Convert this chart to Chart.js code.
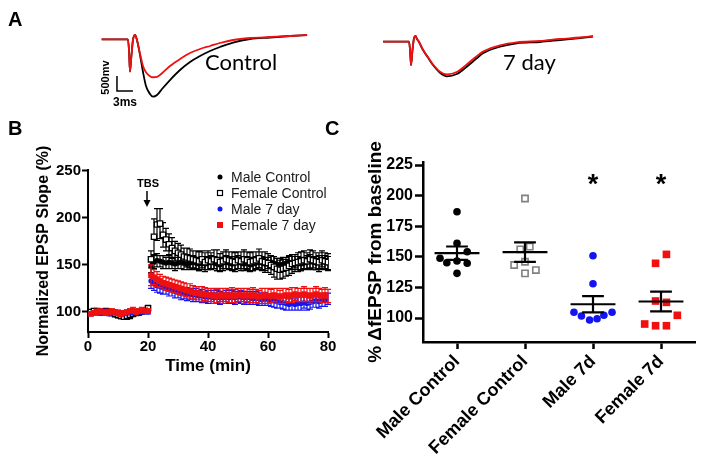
<!DOCTYPE html>
<html><head><meta charset="utf-8">
<script src="https://cdn.jsdelivr.net/npm/chart.js@4.4.1/dist/chart.umd.min.js"></script>
<style>
html,body{margin:0;padding:0;background:#fff;}
body{position:relative;width:704px;height:466px;overflow:hidden}
canvas{position:absolute;display:block}
</style></head><body>
<canvas id="a1" width="345" height="112" style="left:0;top:0"></canvas>
<canvas id="a2" width="359" height="112" style="left:345px;top:0"></canvas>
<canvas id="b" width="345" height="270" style="left:0;top:112px"></canvas>
<canvas id="c" width="384" height="354" style="left:320px;top:112px"></canvas>
<script>
// ---------- Panel A: representative fEPSP traces (time in ms, amplitude in mV re baseline) ----------
const ctrlTraceT = [0,4.93,5.12,5.31,5.59,5.87,6.25,6.62,7.19,7.75,8.31,9.06,9.62,10.38,11.31,12.81,14.69,16.57,18.44,20.32,22.19,24.63,27.82,31.58,35.33,38.52];
const ctrlBlack  = [0,0,-357,-1080,-523,-23,143,-23,-523,-1090,-1557,-1823,-1913,-1857,-1657,-1357,-1023,-757,-557,-390,-257,-107,10,60,110,143];
const ctrlRed    = [0,0,-357,-1080,-523,-23,143,-23,-480,-890,-1100,-1230,-1265,-1250,-1130,-890,-657,-457,-323,-223,-123,-23,43,77,110,143];
const day7TraceT = [0,4.88,5.07,5.25,5.53,5.82,6.1,6.38,6.75,7.5,8.44,9.38,10.69,12.0,13.83,15.7,17.58,18.76,21.95,25.08,29.46,33.21,36.96,39.4];
const day7Black  = [0,0,-277,-777,-277,123,190,90,-10,-277,-530,-777,-1033,-1153,-1077,-833,-553,-387,-167,-53,-10,57,123,173];
const day7Red    = [0,0,-277,-777,-277,123,190,90,-10,-270,-520,-760,-1000,-1090,-1010,-760,-480,-330,-120,-20,23,90,140,190];
const scaleBarMs = 3, scaleBarMv = 500;

// ---------- Panel B: time course ----------
const minutes = [1,2,3,4,5,6,7,8,9,10,11,12,13,14,15,16,17,18,19,20,21,22,23,24,25,26,27,28,29,30,31,32,33,34,35,36,37,38,39,40,41,42,43,44,45,46,47,48,49,50,51,52,53,54,55,56,57,58,59,60,61,62,63,64,65,66,67,68,69,70,71,72,73,74,75,76,77,78,79,80];
const maleCtrl = [99,100,101,100,101,100,99,100,98,97,96,95,95,96,98,99,99,100,101,102,
  149,153,155,154,153,152,153,152,151,152, 153,152,151,152,153,152,151,152,151,152,
  153,152,151,150,152,153,152,151,152,153, 152,151,152,150,151,152,153,152,151,152,
  153,152,151,150,151,152,153,152,153,152, 151,152,153,154,153,152,153,154,153,152];
const maleCtrlErr = [2,2,2,2,2,2,2,2,3,3,3,3,3,3,2,2,2,2,2,3,
  7,7,7,6,7,6,7,6,7,6, 7,7,6,7,7,6,7,7,6,7, 7,6,7,7,6,7,7,6,7,7,
  6,7,7,6,7,7,6,7,7,6, 7,7,6,7,7,6,7,7,6,7, 7,6,7,7,6,7,7,6,7,7];
const femaleCtrl = [100,101,101,100,100,101,100,99,98,97,96,95,96,97,98,99,100,101,101,104,
  156,180,193,194,182,177,172,168,165,163, 161,159,158,157,156,155,154,156,153,155,
  154,156,155,153,154,156,155,154,153,155, 154,156,155,153,154,155,157,154,153,152,
  150,148,146,145,146,147,149,151,152,153, 154,155,154,156,155,154,153,155,154,153];
const femaleCtrlErr = [2,2,2,3,2,2,3,2,3,3,3,3,3,3,2,2,3,2,2,3,
  9,19,17,16,13,12,11,11,10,10, 10,9,10,10,9,10,10,9,10,10, 9,10,11,9,10,10,9,10,10,9,
  10,10,9,10,10,9,10,10,11,10, 10,11,11,10,10,9,10,10,9,10, 10,10,9,10,10,9,10,10,9,9];
const male7 = [98,99,100,99,100,99,98,99,100,99,99,98,99,100,100,99,100,100,101,100,
  133,130,128,127,126,125,124,123,122,121, 120,120,119,119,118,118,117,117,116,116,
  116,115,116,115,115,116,115,116,115,116, 116,115,116,115,114,115,114,113,114,113,
  112,112,111,110,110,109,108,109,108,109, 109,110,109,110,111,112,111,112,113,114];
const male7Err = [2,2,2,2,3,2,2,2,2,3,2,2,2,3,2,2,2,2,3,2,
  8,7,7,7,7,6,7,6,7,6, 7,6,7,6,7,7,6,7,6,7, 7,6,7,7,6,7,6,7,7,6,
  7,7,6,7,6,7,7,6,7,6, 6,7,7,6,7,7,6,7,6,7, 7,6,7,7,6,7,7,6,7,6];
const female7 = [98,99,100,101,100,99,100,101,100,99,98,99,100,101,102,100,101,102,101,101,
  139,137,135,133,131,130,129,128,127,126, 125,124,123,122,121,120,120,119,119,118,
  118,117,117,118,117,118,117,118,117,118, 118,117,118,117,118,117,116,117,118,117,
  117,118,117,116,117,118,117,118,119,118, 118,119,118,117,118,119,118,117,118,117];
const female7Err = [2,2,3,2,2,2,3,2,2,2,3,2,2,2,3,2,2,3,2,2,
  11,8,8,7,7,7,7,7,7,7, 7,7,7,8,7,7,7,8,7,7, 7,8,7,7,8,7,7,8,7,7,
  7,8,7,7,8,7,7,8,7,8, 7,7,8,7,8,7,7,8,7,7, 7,8,7,8,7,8,7,7,8,7];
const seriesNamesB = ['Male Control','Female Control','Male 7 day','Female 7 day'];
const xTicksB = [0,20,40,60,80];
const yTicksB = [100,150,200,250];
const tbsMinute = 20;

// ---------- Panel C: % change per slice ----------
const categoriesC = ['Male Control','Female Control','Male 7d','Female 7d'];
const maleCtrlC   = [186.8,161.0,154.2,148.8,145.2,146.6,144.7,136.5];
const maleCtrlJit = [0,0,0.15,-0.25,-0.15,0,0.15,0];
const femaleCtrlC   = [197.7,156.1,158.3,143.3,146.0,136.5,139.2];
const femaleCtrlJit = [0,-0.07,0.07,-0.16,0,0,0.16];
const male7C   = [150.9,128.0,104.7,101.6,98.4,99.4,102.2,104.7];
const male7Jit = [0,0,-0.28,-0.17,-0.05,0.06,0.16,0.28];
const female7C   = [152.0,144.7,113.9,112.8,102.2,95.1,93.7,93.7];
const female7Jit = [0.08,-0.08,-0.08,0.08,0.24,-0.24,-0.08,0.08];
const significant = [false,false,true,true];
const yTicksC = [100,125,150,175,200,225];

// ---------- drawing ----------
const FONT = "'Liberation Sans', Arial, Helvetica, sans-serif";
Chart.defaults.font.family = FONT;
Chart.defaults.color = '#000';
const RED = '#f01010', BLUE = '#1414f0', GRAY = '#808080';
const pts = (xs, ys) => xs.map((x, i) => ({x: x, y: ys[i]}));
const noPlug = {legend:{display:false}, tooltip:{enabled:false}};

function traceChart(id, t, black, red, pad, xr, yr, deco) {
  return new Chart(document.getElementById(id), {
    type: 'line',
    data: {datasets: [
      {data: pts(t, red), borderColor: RED, borderWidth: 1.8, pointRadius: 0, cubicInterpolationMode: 'monotone', clip: false},
      {data: pts(t, black), borderColor: '#000', borderWidth: 1.8, pointRadius: 0, cubicInterpolationMode: 'monotone', clip: false}
    ]},
    options: {responsive: false, animation: false, layout: {padding: pad},
      scales: {x: {type: 'linear', display: false, min: xr[0], max: xr[1]},
               y: {type: 'linear', display: false, min: yr[0], max: yr[1]}},
      plugins: noPlug},
    plugins: [{id: 'deco', afterDraw: deco}]
  });
}

traceChart('a1', ctrlTraceT, ctrlBlack, ctrlRed, {left: 95, right: 30, top: 28, bottom: 9}, [-1.25, 40.0], [-2123, 377], c => {
  const ctx = c.ctx, x = c.scales.x, y = c.scales.y;
  ctx.save();
  ctx.fillStyle = '#000';
  ctx.font = 'bold 20px ' + FONT; ctx.textBaseline = 'alphabetic'; ctx.textAlign = 'left';
  ctx.fillText('A', 8, 26);
  const x0 = x.getPixelForValue(2.87), x1 = x.getPixelForValue(2.87 + scaleBarMs);
  const y0 = y.getPixelForValue(-1223), y1 = y.getPixelForValue(-1223 - scaleBarMv);
  ctx.strokeStyle = '#000'; ctx.lineWidth = 1.5;
  ctx.beginPath(); ctx.moveTo(x0, y0); ctx.lineTo(x0, y1); ctx.lineTo(x1, y1); ctx.stroke();
  ctx.font = 'bold 11px ' + FONT;
  ctx.save(); ctx.translate(x0 - 11, 77.5); ctx.rotate(-Math.PI / 2);
  ctx.textAlign = 'center'; ctx.textBaseline = 'middle'; ctx.fillText('500mv', 0, 0); ctx.restore();
  ctx.font = 'bold 12px ' + FONT; ctx.textAlign = 'left'; ctx.textBaseline = 'alphabetic';
  ctx.fillText('3ms', x0 - 4, y1 + 15);
  ctx.font = '22px Lato, ' + FONT;
  ctx.fillText('Control', 205, 70);
  ctx.restore();
});

traceChart('a2', day7TraceT, day7Black, day7Red, {left: 32, right: 97, top: 28, bottom: 9}, [-1.13, 42.02], [-2043, 457], c => {
  const ctx = c.ctx;
  ctx.save(); ctx.fillStyle = '#000';
  ctx.font = '22px Lato, ' + FONT; ctx.textBaseline = 'alphabetic';
  ctx.fillText('7 day', 158, 70);
  ctx.restore();
});

const errPlugin = {
  id: 'err',
  beforeDatasetDraw(chart, args) {
    const ds = chart.data.datasets[args.index];
    if (!ds.err) return;
    const ctx = chart.ctx, x = chart.scales.x, y = chart.scales.y;
    ctx.save(); ctx.strokeStyle = ds.errColor; ctx.lineWidth = 1.2;
    ctx.beginPath();
    ds.data.forEach((p, i) => {
      const px = x.getPixelForValue(p.x);
      const t = y.getPixelForValue(p.y + ds.err[i]), b = y.getPixelForValue(p.y - ds.err[i]);
      ctx.moveTo(px, t); ctx.lineTo(px, b);
      ctx.moveTo(px - 3, t); ctx.lineTo(px + 3, t);
      ctx.moveTo(px - 3, b); ctx.lineTo(px + 3, b);
    });
    ctx.stroke(); ctx.restore();
  }
};

const axisCommon = (tickLen, bw) => ({
  grid: {display: true, drawOnChartArea: false, drawTicks: true, tickLength: tickLen, tickWidth: bw, tickColor: '#000'},
  border: {display: true, color: '#000', width: bw}
});

new Chart(document.getElementById('b'), {
  type: 'scatter',
  data: {datasets: [
    {label: seriesNamesB[3], data: pts(minutes, female7), err: female7Err, errColor: RED, pointStyle: 'rect', pointRadius: 4, backgroundColor: RED, borderColor: RED, borderWidth: 0},
    {label: seriesNamesB[2], data: pts(minutes, male7), err: male7Err, errColor: BLUE, pointStyle: 'circle', pointRadius: 2.6, backgroundColor: BLUE, borderColor: BLUE, borderWidth: 0},
    {label: seriesNamesB[1], data: pts(minutes, femaleCtrl), err: femaleCtrlErr, errColor: '#000', pointStyle: 'rect', pointRadius: 3.8, backgroundColor: '#fff', borderColor: '#000', borderWidth: 1.3},
    {label: seriesNamesB[0], data: pts(minutes, maleCtrl), err: maleCtrlErr, errColor: '#000', pointStyle: 'circle', pointRadius: 2.6, backgroundColor: '#000', borderColor: '#000', borderWidth: 0}
  ]},
  options: {responsive: false, animation: false,
    layout: {padding: {left: 0, right: 17, top: 58, bottom: 0}},
    scales: {
      x: Object.assign({type: 'linear', min: 0, max: 80,
        afterBuildTicks: s => { s.ticks = xTicksB.map(v => ({value: v})); },
        afterFit: s => { s.height = 50; },
        ticks: {font: {size: 15, weight: 'bold'}, padding: 0, maxRotation: 0, color: '#000'},
        title: {display: true, text: 'Time (min)', font: {size: 17, weight: 'bold'}, padding: {top: 0, bottom: 5}, color: '#000'}
      }, axisCommon(6, 2)),
      y: Object.assign({type: 'linear', min: 78.7, max: 251,
        afterBuildTicks: s => { s.ticks = yTicksB.map(v => ({value: v})); },
        afterFit: s => { s.width = 88; },
        ticks: {font: {size: 15, weight: 'bold'}, padding: 1, color: '#000'},
        title: {display: true, text: 'Normalized EPSP Slope (%)', font: {size: 16, weight: 'bold'}, padding: {top: 34, bottom: 0}, color: '#000'}
      }, axisCommon(6, 2))
    },
    plugins: noPlug},
  plugins: [errPlugin, {id: 'decoB', afterDraw(c) {
    const ctx = c.ctx, x = c.scales.x;
    ctx.save(); ctx.fillStyle = '#000';
    ctx.font = 'bold 20px ' + FONT; ctx.textAlign = 'left'; ctx.textBaseline = 'alphabetic';
    ctx.fillText('B', 8, 23);
    // TBS marker
    const tx = x.getPixelForValue(tbsMinute);
    ctx.font = 'bold 11px ' + FONT; ctx.textAlign = 'center'; ctx.textBaseline = 'middle';
    ctx.fillText('TBS', tx, 72);
    ctx.strokeStyle = '#000'; ctx.lineWidth = 1.5;
    ctx.beginPath(); ctx.moveTo(tx - 1, 79); ctx.lineTo(tx - 1, 92); ctx.stroke();
    ctx.beginPath(); ctx.moveTo(tx - 4.5, 88); ctx.lineTo(tx - 1, 95); ctx.lineTo(tx + 2.5, 88); ctx.closePath(); ctx.fill();
    // legend
    const rows = [65, 81, 97, 113];
    ctx.font = '14px ' + FONT; ctx.textAlign = 'left'; ctx.textBaseline = 'middle';
    const mx = 220;
    seriesNamesB.forEach((name, i) => {
      const ry = rows[i];
      if (i === 0) { ctx.fillStyle = '#000'; ctx.beginPath(); ctx.arc(mx, ry, 2.5, 0, Math.PI * 2); ctx.fill(); }
      if (i === 1) { ctx.strokeStyle = '#000'; ctx.lineWidth = 1.2; ctx.strokeRect(mx - 2.5, ry - 2.5, 5, 5); }
      if (i === 2) { ctx.fillStyle = BLUE; ctx.beginPath(); ctx.arc(mx, ry, 2.5, 0, Math.PI * 2); ctx.fill(); }
      if (i === 3) { ctx.fillStyle = RED; ctx.fillRect(mx - 3, ry - 3, 6, 6); }
      ctx.fillStyle = '#1a1a1a';
      ctx.fillText(name, 231, ry + 1);
    });
    ctx.restore();
  }}]
});

const groupsC = [
  {vals: maleCtrlC, jit: maleCtrlJit, style: 'circle', r: 3.8, bg: '#000', bc: '#000', bw: 0},
  {vals: femaleCtrlC, jit: femaleCtrlJit, style: 'rect', r: 4.4, bg: '#fff', bc: GRAY, bw: 1.6},
  {vals: male7C, jit: male7Jit, style: 'circle', r: 3.8, bg: BLUE, bc: BLUE, bw: 0},
  {vals: female7C, jit: female7Jit, style: 'rect', r: 5.4, bg: RED, bc: RED, bw: 0}
];

new Chart(document.getElementById('c'), {
  type: 'scatter',
  data: {datasets: groupsC.map((g, gi) => ({
    label: categoriesC[gi],
    data: g.vals.map((v, i) => ({x: gi + g.jit[i], y: v})),
    pointStyle: g.style, pointRadius: g.r, backgroundColor: g.bg, borderColor: g.bc, borderWidth: g.bw
  }))},
  options: {responsive: false, animation: false,
    layout: {padding: {left: 0, right: 9, top: 50, bottom: 0}},
    scales: {
      x: Object.assign({type: 'linear', min: -0.5, max: 3.5,
        afterBuildTicks: s => { s.ticks = categoriesC.map((c, i) => ({value: i})); },
        afterFit: s => { s.height = 124; },
        ticks: {font: {size: 18, weight: 'bold'}, padding: 2, minRotation: 45, maxRotation: 45, autoSkip: false, color: '#000',
          callback: v => categoriesC[v]}
      }, axisCommon(7, 2.5)),
      y: Object.assign({type: 'linear', min: 80.4, max: 227.5,
        afterBuildTicks: s => { s.ticks = yTicksC.map(v => ({value: v})); },
        afterFit: s => { s.width = 103; },
        ticks: {font: {size: 16, weight: 'bold'}, padding: 2, color: '#000'},
        title: {display: true, text: '% ΔfEPSP from baseline', font: {size: 19, weight: 'bold'}, padding: {top: 44, bottom: 0}, color: '#000'}
      }, axisCommon(8, 2.5))
    },
    plugins: noPlug},
  plugins: [{id: 'meanSem', afterDatasetsDraw(c) {
    const ctx = c.ctx, x = c.scales.x, y = c.scales.y;
    ctx.save(); ctx.strokeStyle = '#000'; ctx.lineWidth = 2.2;
    groupsC.forEach((g, gi) => {
      const n = g.vals.length;
      const mean = g.vals.reduce((a, b) => a + b, 0) / n;
      const sd = Math.sqrt(g.vals.reduce((a, b) => a + (b - mean) * (b - mean), 0) / (n - 1));
      const sem = sd / Math.sqrt(n);
      const ym = y.getPixelForValue(mean), yt = y.getPixelForValue(mean + sem), yb = y.getPixelForValue(mean - sem);
      ctx.beginPath();
      ctx.moveTo(x.getPixelForValue(gi - 0.33), ym); ctx.lineTo(x.getPixelForValue(gi + 0.33), ym);
      ctx.moveTo(x.getPixelForValue(gi - 0.16), yt); ctx.lineTo(x.getPixelForValue(gi + 0.16), yt);
      ctx.moveTo(x.getPixelForValue(gi - 0.16), yb); ctx.lineTo(x.getPixelForValue(gi + 0.16), yb);
      ctx.moveTo(x.getPixelForValue(gi), yt); ctx.lineTo(x.getPixelForValue(gi), yb);
      ctx.stroke();
      if (significant[gi]) {
        ctx.fillStyle = '#000'; ctx.font = 'bold 27px ' + FONT; ctx.textAlign = 'center'; ctx.textBaseline = 'alphabetic';
        ctx.fillText('*', x.getPixelForValue(gi), y.getPixelForValue(214) + 14);
      }
    });
    ctx.fillStyle = '#000'; ctx.font = 'bold 20px ' + FONT; ctx.textAlign = 'left'; ctx.textBaseline = 'alphabetic';
    ctx.fillText('C', 5, 23);
    ctx.restore();
  }}]
});
</script></body></html>
